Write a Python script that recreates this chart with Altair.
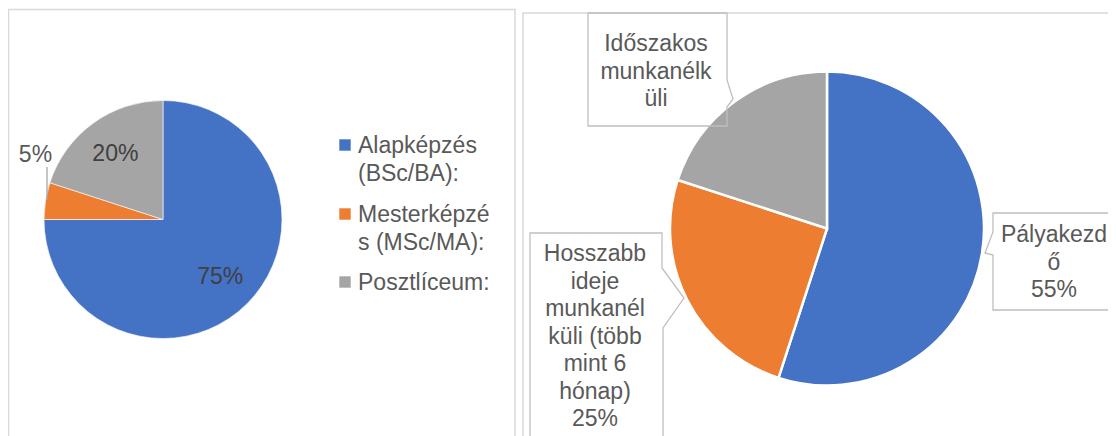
import altair as alt
import pandas as pd

# ---------------- data ----------------
left_categories = ["Alapképzés (BSc/BA):", "Mesterképzés (MSc/MA):", "Posztlíceum:"]
left_values = [75, 5, 20]
left_legend_lines = [["Alapképzés", "(BSc/BA):"], ["Mesterképzé", "s (MSc/MA):"], ["Posztlíceum:"]]

right_categories = ["Pályakezdő", "Hosszabb ideje munkanélküli (több mint 6 hónap)", "Időszakos munkanélküli"]
right_values = [55, 25, 20]
right_label_lines = [["Pályakezd", "ő"],
                     ["Hosszabb", "ideje", "munkanél", "küli (több", "mint 6", "hónap)"],
                     ["Időszakos", "munkanélk", "üli"]]
right_show_pct = [True, True, False]

slice_colors = ["#4472C4", "#ED7D31", "#A5A5A5"]

# ---------------- layout (pixels inside the chart) ----------------
W, H = 1100, 428
FONT = "Liberation Sans"
FS = 23
LH = 27.5
TXT = "#595959"
L_CX, L_CY, L_R = 155, 211.5, 119
R_CX, R_CY, R_R = 819, 220.5, 157
inner_label_radius = 81
small_label_slices = ["Mesterképzés (MSc/MA):"]

panels = pd.DataFrame({"x": [0.5, 515], "x2": [507, 1125], "y": [1.5, 5], "y2": [445, 445]})
legend_x_sym, legend_x_txt = 337, 350
legend_rows_y = [137, 206, 274]
leader_left = pd.DataFrame({"px": [39, 39], "py": [159, 192], "seq": [0, 1]})
callout_boxes = [
    [(580, 5), (719, 5), (719, 72), (725, 91), (719, 99), (719, 118), (580, 118), (580, 5)],
    [(522, 445), (522, 225), (654, 225), (654, 260), (676, 290), (655, 320), (655, 445)],
    [(1125, 205), (985, 205), (985, 224), (977, 245), (985, 247), (985, 302), (1125, 302)],
]
callout_text_pos = {"Pályakezdő": (1046, 234),
                    "Hosszabb ideje munkanélküli (több mint 6 hónap)": (587, 253),
                    "Időszakos munkanélküli": (648, 43)}

# ---------------- tables ----------------
left_df = pd.DataFrame({"cat": left_categories, "value": left_values, "idx": range(len(left_values))})
left_df["pct"] = [f"{v}%" for v in left_values]
left_df["inlabel"] = [p if c not in small_label_slices else "" for c, p in zip(left_df["cat"], left_df["pct"])]
left_df["outlabel"] = [p if c in small_label_slices else "" for c, p in zip(left_df["cat"], left_df["pct"])]

right_df = pd.DataFrame({"cat": right_categories, "value": right_values, "idx": range(len(right_values))})

legend_df = pd.DataFrame({
    "cat": left_categories,
    "label": ["\n".join(l) for l in left_legend_lines],
    "ys": legend_rows_y,
    "yt": [y + 8 for y in legend_rows_y],
    "xs": [legend_x_sym] * 3,
    "xt": [legend_x_txt] * 3,
})

rows = []
for b, pts in enumerate(callout_boxes):
    for s, (px, py) in enumerate(pts):
        rows.append({"box": b, "seq": s, "px": px, "py": py})
box_df = pd.DataFrame(rows)

rtxt = []
for c, v, lines, show in zip(right_categories, right_values, right_label_lines, right_show_pct):
    t = "\n".join(lines + ([f"{v}%"] if show else []))
    x, y = callout_text_pos[c]
    rtxt.append({"cat": c, "text": t, "px": x, "py": y})
rtxt_df = pd.DataFrame(rtxt)

# ---------------- scales ----------------
xs = alt.Scale(domain=[0, W], range=[0, W], nice=False, zero=False)
ys = alt.Scale(domain=[0, H], range=[0, H], nice=False, zero=False)
theta_scale = alt.Scale(domain=[0, 100])
color_scale = alt.Scale(domain=left_categories + right_categories, range=slice_colors * 2)

def theta():
    return alt.Theta("value:Q", stack=True, scale=theta_scale)

# panel borders
panel_layer = alt.Chart(panels).mark_rect(fillOpacity=0, stroke="#d9d9d9", strokeWidth=1.5).encode(
    x=alt.X("x:Q", scale=xs, axis=None), x2="x2:Q",
    y=alt.Y("y:Q", scale=ys, axis=None), y2="y2:Q")

# left pie
left_arcs = alt.Chart(left_df).mark_arc(outerRadius=L_R, stroke="white", strokeWidth=0.6).encode(
    theta=theta(), order=alt.Order("idx:Q"),
    color=alt.Color("cat:N", scale=color_scale, legend=None),
    x=alt.value(L_CX), y=alt.value(L_CY))

left_in = alt.Chart(left_df).mark_text(radius=inner_label_radius, font=FONT, fontSize=FS, color="#404040").encode(
    theta=theta(), order=alt.Order("idx:Q"), detail="cat:N", text="inlabel:N",
    x=alt.value(L_CX), y=alt.value(L_CY))

left_out = alt.Chart(left_df).mark_text(radius=L_R, dx=-10, dy=-46, font=FONT, fontSize=FS, color=TXT).encode(
    theta=theta(), order=alt.Order("idx:Q"), detail="cat:N", text="outlabel:N",
    x=alt.value(L_CX), y=alt.value(L_CY))

left_leader = alt.Chart(leader_left).mark_line(color="#a6a6a6", strokeWidth=1.3).encode(
    x=alt.X("px:Q", scale=xs, axis=None), y=alt.Y("py:Q", scale=ys, axis=None), order="seq:Q")

legend_sym = alt.Chart(legend_df).mark_square(size=130, opacity=1).encode(
    x=alt.X("xs:Q", scale=xs, axis=None), y=alt.Y("ys:Q", scale=ys, axis=None),
    color=alt.Color("cat:N", scale=color_scale, legend=None))

legend_txt = alt.Chart(legend_df).mark_text(align="left", baseline="alphabetic", lineBreak="\n",
                                            lineHeight=LH, font=FONT, fontSize=FS, color=TXT).encode(
    x=alt.X("xt:Q", scale=xs, axis=None), y=alt.Y("yt:Q", scale=ys, axis=None), text="label:N")

# right pie
right_arcs = alt.Chart(right_df).mark_arc(outerRadius=R_R, stroke="white", strokeWidth=2.5).encode(
    theta=theta(), order=alt.Order("idx:Q"),
    color=alt.Color("cat:N", scale=color_scale, legend=None),
    x=alt.value(R_CX), y=alt.value(R_CY))

boxes = alt.Chart(box_df).mark_line(color="#bfbfbf", strokeWidth=1.3).encode(
    x=alt.X("px:Q", scale=xs, axis=None), y=alt.Y("py:Q", scale=ys, axis=None),
    order="seq:Q", detail="box:N")

right_txt = alt.Chart(rtxt_df).mark_text(align="center", baseline="alphabetic", lineBreak="\n",
                                         lineHeight=LH, font=FONT, fontSize=FS, color=TXT).encode(
    x=alt.X("px:Q", scale=xs, axis=None), y=alt.Y("py:Q", scale=ys, axis=None), text="text:N")

chart = alt.layer(panel_layer, left_arcs, left_in, left_out, left_leader, legend_sym, legend_txt,
                  right_arcs, boxes, right_txt).properties(
    width=W, height=H, padding=0, autosize=alt.AutoSizeParams(type="none"),
    background="white").configure_view(stroke=None)

chart.save("out.html", embed_options={"renderer": "svg", "actions": False})
